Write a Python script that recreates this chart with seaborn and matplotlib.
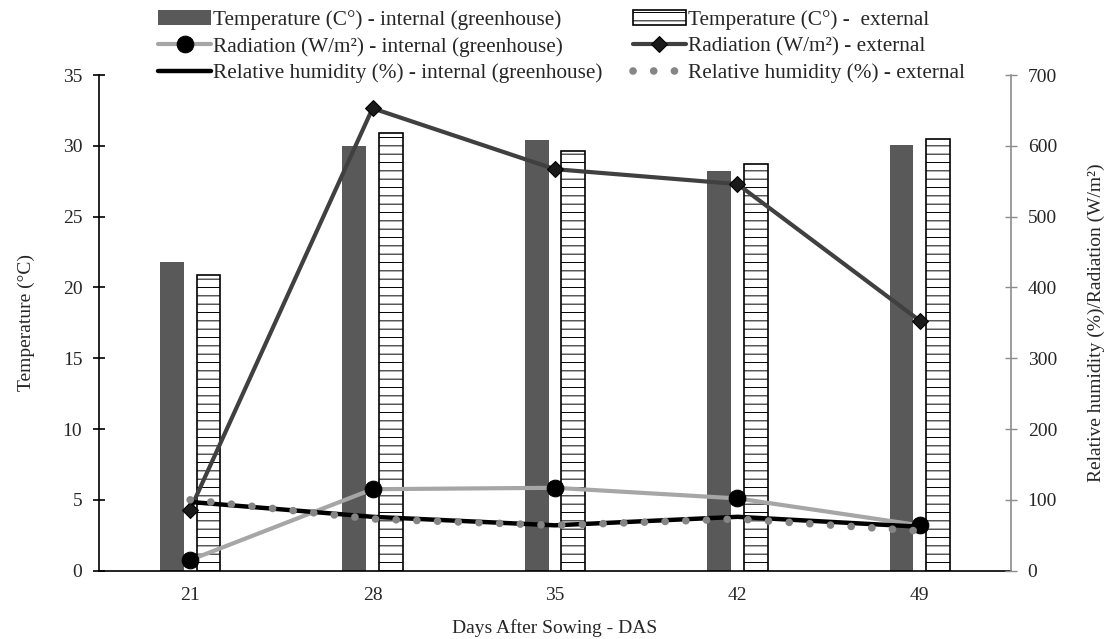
import matplotlib
matplotlib.use('Agg')
import matplotlib.pyplot as plt
import numpy as np
import pandas as pd
import seaborn as sns

das = ['21', '28', '35', '42', '49']
temp_int = [21.8, 30.0, 30.4, 28.25, 30.05]
temp_ext = [20.9, 30.9, 29.65, 28.7, 30.5]
rad_int = [15, 115, 117, 102, 64]
rad_ext = [86, 653, 567, 546, 353]
rh_int = [97, 76, 64, 76, 62]
rh_ext = [100, 73, 64, 73, 56]

lab_t_int = 'Temperature (C°) - internal (greenhouse)'
lab_t_ext = 'Temperature (C°) -  external'

sns.set_style('white')
plt.rcParams['font.family'] = ['Liberation Serif', 'DejaVu Serif']
plt.rcParams['hatch.linewidth'] = 0.7
txt = '#262626'
fs = 14

temps = pd.DataFrame({
    'das': das * 2,
    'temp': temp_int + temp_ext,
    'source': [lab_t_int] * len(das) + [lab_t_ext] * len(das),
})

fig = plt.figure(figsize=(11.08, 6.39), dpi=100)
ax = fig.add_axes([0.0893, 0.107, 0.8232, 0.7756])

sns.barplot(data=temps, x='das', y='temp', hue='source', ax=ax,
            palette=['#595959', 'white'], width=0.4, gap=0.35,
            saturation=1, legend=False)
for p in ax.containers[0]:
    p.set_edgecolor('none')
for p in ax.containers[1]:
    p.set_edgecolor('black')
    p.set_linewidth(1.2)
    p.set_hatch('--')
ax.containers[0].set_label(lab_t_int)
ax.containers[1].set_label(lab_t_ext)

ax.set_xlim(-0.5, len(das) - 0.5)
ax.set_ylim(0, 35)
ax.set_yticks(range(0, 36, 5))
ax.set_xlabel('Days After Sowing - DAS', fontsize=fs, color=txt, labelpad=11)
ax.set_ylabel('Temperature (°C)', fontsize=fs, color=txt, labelpad=20)
ax.tick_params(axis='both', labelsize=fs, labelcolor=txt, direction='inout',
               length=8, width=1.2, color='black', pad=8)
ax.spines['top'].set_visible(False)
ax.spines['right'].set_visible(False)
ax.spines['left'].set_color('black')
ax.spines['bottom'].set_color('black')
ax.spines['left'].set_linewidth(1.2)
ax.spines['bottom'].set_linewidth(1.2)

ax2 = ax.twinx()
xpos = np.arange(len(das))
sns.lineplot(x=xpos, y=rad_int, ax=ax2, color='#a6a6a6', linewidth=3,
             marker='o', markersize=12, markerfacecolor='black',
             markeredgecolor='black', label='Radiation (W/m²) - internal (greenhouse)')
sns.lineplot(x=xpos, y=rad_ext, ax=ax2, color='#404040', linewidth=3,
             marker='D', markersize=8, markerfacecolor='#1a1a1a',
             markeredgecolor='black', label='Radiation (W/m²) - external')
sns.lineplot(x=xpos, y=rh_int, ax=ax2, color='black', linewidth=3.2,
             label='Relative humidity (%) - internal (greenhouse)')
sns.lineplot(x=xpos, y=rh_ext, ax=ax2, color='#858585', linewidth=5.5,
             linestyle=(0, (0.01, 2.7)), dash_capstyle='round',
             label='Relative humidity (%) - external')
ax2.set_ylim(0, 700)
ax2.set_yticks(range(0, 701, 100))
ax2.set_ylabel('Relative humidity (%)/Radiation (W/m²)', fontsize=fs,
               color=txt, labelpad=22)
ax2.tick_params(axis='y', labelsize=fs, labelcolor=txt, direction='inout',
                length=8, width=1.0, color='#8c8c8c', pad=8)
for s in ['top', 'left', 'bottom']:
    ax2.spines[s].set_visible(False)
ax2.spines['right'].set_color('#8c8c8c')
ax2.spines['right'].set_linewidth(1.2)
ax2.get_legend().remove()

h1, l1 = ax.get_legend_handles_labels()
h2, l2 = ax2.get_legend_handles_labels()
handles = [h1[0], h2[0], h2[2], h1[1], h2[1], h2[3]]
labels = [l1[0], l2[0], l2[2], l1[1], l2[1], l2[3]]
fig.legend(handles, labels, ncol=2, loc='upper left',
           bbox_to_anchor=(0.1255, 1.014), frameon=False, fontsize=15.3,
           handlelength=2.5, handletextpad=0.1, columnspacing=1.4,
           labelspacing=0.32, labelcolor=txt)

fig.savefig('out.png', dpi=100)
